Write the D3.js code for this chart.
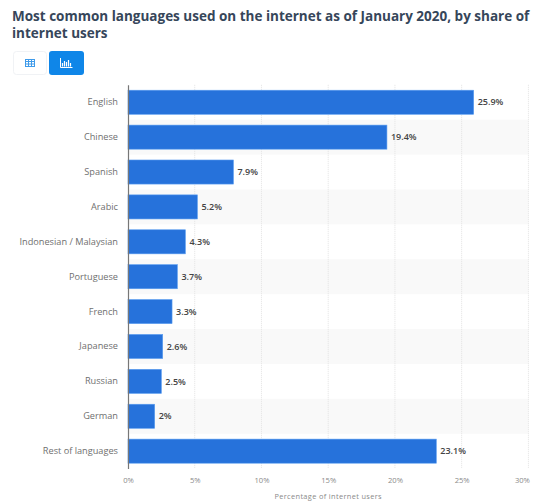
<!DOCTYPE html>
<html>
<head>
<meta charset="utf-8">
<script src="https://cdn.jsdelivr.net/npm/d3@7"></script>
<style>
html,body{margin:0;padding:0;background:#fff;}
svg{display:block;font-family:"Open Sans",sans-serif;}
</style>
</head>
<body>
<svg id="chart" width="536" height="502"></svg>
<script>
const titleLines = ["Most common languages used on the internet as of January 2020, by share of", "internet users"];
const languages = ["English","Chinese","Spanish","Arabic","Indonesian / Malaysian","Portuguese","French","Japanese","Russian","German","Rest of languages"];
const shares = [25.9,19.4,7.9,5.2,4.3,3.7,3.3,2.6,2.5,2,23.1];
const xTicks = [0,5,10,15,20,25,30];
const xLabel = "Percentage of internet users";

const svg = d3.select("#chart");
const plotLeft = 128, plotRight = 528.4, plotTop = 84.8, plotBottom = 468.6;

const x = d3.scaleLinear().domain([0,30]).range([plotLeft,plotRight]);
const y = d3.scaleBand().domain(languages).range([plotTop,plotBottom]).paddingInner(0.31).paddingOuter(0.155);

// Title
svg.append("g").selectAll("text").data(titleLines).join("text")
  .attr("x",12).attr("y",(d,i)=>20.5+i*17.7)
  .attr("font-size",13.5).attr("font-weight",700).attr("fill","#36465a")
  .text(d=>d);

// Table / chart view toggle
const toggle = svg.append("g");
toggle.append("rect").attr("x",13.5).attr("y",51.5).attr("width",33).attr("height",23).attr("rx",3)
  .attr("fill","#fff").attr("stroke","#f0f2f5");
toggle.append("rect").attr("x",49).attr("y",51).attr("width",35).attr("height",24).attr("rx",3).attr("fill","#0f86e8");
const tableIcon = toggle.append("g").attr("fill","none").attr("stroke","#3f9bea").attr("stroke-width",1);
tableIcon.append("rect").attr("x",25.5).attr("y",59.5).attr("width",9).attr("height",7);
[28.5,31.5].forEach(px=>tableIcon.append("line").attr("x1",px).attr("x2",px).attr("y1",59.5).attr("y2",66.5));
[61.5,64].forEach(py=>tableIcon.append("line").attr("x1",25.5).attr("x2",34.5).attr("y1",py).attr("y2",py));
const barIcon = toggle.append("g").attr("stroke","#fff").attr("fill","none");
barIcon.append("path").attr("d","M60.5,58V67.5H72.5");
[[62.5,63],[64.5,61],[66.5,62],[68.5,60],[70.5,63]].forEach(([px,py])=>
  barIcon.append("line").attr("x1",px).attr("x2",px).attr("y1",py).attr("y2",66.5).attr("stroke-width",1.2));

// Alternating row bands
const step = y.step();
svg.append("g").selectAll("rect").data(languages.filter((d,i)=>i%2===1)).join("rect")
  .attr("x",plotLeft).attr("width",plotRight-plotLeft)
  .attr("y",d=>y(d)+y.bandwidth()/2-step/2).attr("height",step)
  .attr("fill","#f9f9f9");

// Dotted vertical gridlines
svg.append("g").selectAll("line").data(xTicks.slice(1)).join("line")
  .attr("x1",d=>x(d)).attr("x2",d=>x(d)).attr("y1",plotTop).attr("y2",plotBottom)
  .attr("stroke","#e2e2e2").attr("stroke-width",1).attr("stroke-dasharray","1 1");

// Bars
svg.append("g").selectAll("rect").data(languages).join("rect")
  .attr("x",x(0)).attr("y",d=>y(d))
  .attr("width",(d,i)=>x(shares[i])-x(0)).attr("height",y.bandwidth())
  .attr("fill","#2672db").attr("stroke","#5a9df0").attr("stroke-width",0.6);

// Value labels
svg.append("g").selectAll("text").data(languages).join("text")
  .attr("x",(d,i)=>x(shares[i])+4).attr("y",d=>y(d)+y.bandwidth()/2)
  .attr("dy","0.35em").attr("font-size",9).attr("font-weight",600).attr("fill","#444")
  .text((d,i)=>shares[i]+"%");

// Category axis
const yAxis = svg.append("g").attr("transform",`translate(${plotLeft},0)`)
  .call(d3.axisLeft(y).tickSize(0).tickPadding(10));
yAxis.select(".domain").attr("stroke","#777").attr("stroke-width",1.2);
yAxis.selectAll("text").attr("font-family","'Open Sans',sans-serif").attr("font-size",9.2).attr("fill","#6f6f6f");

// Value axis; the last tick label is pulled inward so it stays on the page
const xAxis = svg.append("g").attr("transform",`translate(0,${plotBottom})`)
  .call(d3.axisBottom(x).tickValues(xTicks).tickFormat(d=>d+"%").tickSize(0).tickPadding(9));
xAxis.select(".domain").remove();
xAxis.selectAll("text").attr("font-family","'Open Sans',sans-serif").attr("font-size",7.6).attr("fill","#8a8a8a");
xAxis.selectAll(".tick").filter(d=>d===30).select("text").attr("text-anchor","end").attr("dx",1);

svg.append("text").attr("x",(plotLeft+plotRight)/2).attr("y",499).attr("text-anchor","middle")
  .attr("font-size",7.4).attr("letter-spacing",0.35).attr("fill","#8a8a8a").text(xLabel);
</script>
</body>
</html>
